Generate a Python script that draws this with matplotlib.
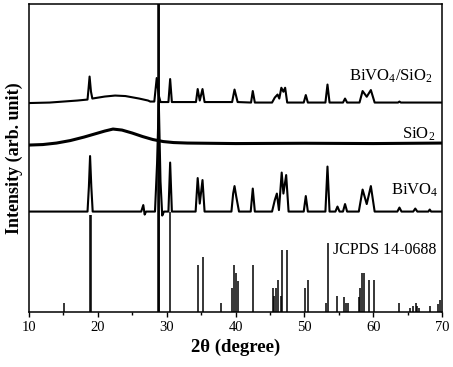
import matplotlib
matplotlib.use('Agg')
from matplotlib import pyplot as plt

plt.rcParams['font.family'] = ['Liberation Serif', 'DejaVu Serif']
plt.rcParams['mathtext.fontset'] = 'custom'
plt.rcParams['mathtext.rm'] = 'Liberation Serif'
plt.rcParams['mathtext.default'] = 'regular'

# BiVO4 pattern (2theta, intensity above its own baseline)
bivo4_x = [10, 18.5, 18.7, 18.87, 19.05, 19.25, 26.3, 26.6, 26.8, 27.0,
           28.3, 28.6, 28.85, 29.1, 29.35, 29.6, 30.25, 30.5, 30.75,
           34.2, 34.5, 34.8, 35.2, 35.5, 39.4, 39.65, 39.85, 40.1, 40.5,
           42.2, 42.5, 42.8, 45.3, 45.7, 46.0, 46.3, 46.7, 46.95, 47.35,
           47.7, 49.9, 50.2, 50.5, 53.05, 53.35, 53.65, 54.5, 54.8, 55.1,
           55.6, 55.9, 56.2, 57.9, 58.45, 59.05, 59.65, 60.2, 63.5, 63.8,
           64.1, 65.8, 66.1, 66.4, 68.0, 68.2, 68.4, 70]
bivo4_y = [0, 0, 25, 55.5, 25, 0, 0, 6.5, -3, 0,
           0, 48, 110, 30, -4, 0, 0, 49, 0,
           0, 33.5, 8, 31.5, 0, 0, 18, 25.5, 15, 0,
           0, 23, 0, 0, 11.5, 18, 1.5, 39, 18, 36.5,
           0, 0, 15.5, 0, 0, 45, 0, 0, 5, 0,
           0, 7.5, 0, 0, 22, 7.5, 25.5, 0, 0, 4,
           0, 0, 3, 0, 0, 2, 0, 0]

# SiO2 pattern (amorphous hump)
sio2_x = [10, 12, 14, 16, 18, 20, 21, 22.2, 23.5, 25, 26.5, 28, 29.5, 31,
          33, 40, 50, 60, 70]
sio2_y = [-1.5, -1, 0.5, 3, 6.5, 10.5, 12.5, 14.5, 13.5, 10.5, 7, 4, 2, 1,
          0.5, 0, 0.3, 0, 0.5]

# BiVO4/SiO2 composite pattern
comp_x = [10, 13, 15, 17, 18.5, 18.65, 18.8, 19.0, 19.2, 21, 22.5, 24, 26,
          27.3, 27.6, 28.2, 28.55, 28.85, 29.1, 30.25, 30.5, 30.75, 34.25,
          34.5, 34.8, 35.2, 35.5, 39.5, 39.85, 40.3, 42.25, 42.5, 42.8,
          45.3, 45.7, 46.1, 46.35, 46.65, 46.95, 47.2, 47.5, 49.9, 50.2,
          50.5, 53.05, 53.35, 53.65, 55.6, 55.9, 56.2, 58.0, 58.45, 59.05,
          59.65, 60.2, 63.6, 63.8, 64.0, 70]
comp_y = [0.5, 1, 2, 3, 4, 15, 27, 12, 5, 7, 8, 7.5, 5,
          3, 2, 2, 25.5, 8, 1.5, 1.5, 24.5, 1.5, 1.5,
          14.5, 3, 14.5, 1.5, 1.5, 14, 1.5, 1, 12.5, 1,
          1, 6, 9, 5, 15.8, 11.8, 15.8, 1, 1, 8.5,
          1, 1, 19, 1, 1, 5, 1, 1, 12.5, 6.8,
          13.5, 1, 1, 2, 1, 1]

# JCPDS 14-0688 reference lines
ref_pos = [15.1, 18.8, 19.0, 28.68, 28.82, 28.95, 30.5, 34.5, 35.2, 37.9,
           39.5, 39.75, 40.1, 40.3, 42.5, 45.4, 45.6, 45.9, 46.2, 46.6,
           46.8, 47.4, 50.1, 50.5, 53.1, 53.4, 54.7, 55.8, 56.0, 56.3,
           57.9, 58.1, 58.35, 58.6, 59.4, 60.1, 63.8, 65.4, 65.7, 66.2,
           66.4, 66.7, 68.3, 69.35, 69.7]
ref_int = [8.5, 96.5, 96.5, 400, 400, 400, 100, 46.5, 54.5, 8.5,
           23.5, 46.5, 39, 31, 46.5, 23.5, 15.5, 23.5, 31.5, 15.5,
           62, 62, 23.5, 31.5, 8.5, 69, 15.5, 15, 8.5, 8.5,
           15, 23.5, 39, 39, 31.5, 31.5, 9, 3.5, 5.5, 9,
           5.5, 3.5, 5.5, 7.5, 11.5]

offsets = {'BiVO4': 100, 'SiO2': 168, 'comp': 208}

fig = plt.figure(figsize=(4.53, 3.67), dpi=100)
ax = fig.add_axes([0.064, 0.151, 0.912, 0.838])

ax.vlines(ref_pos, 0, ref_int, color='black', linewidth=1.1)
ax.plot(bivo4_x, [v + offsets['BiVO4'] for v in bivo4_y],
        color='black', linewidth=1.5)
ax.plot(sio2_x, [v + offsets['SiO2'] for v in sio2_y],
        color='black', linewidth=2.2)
ax.plot(comp_x, [v + offsets['comp'] for v in comp_y],
        color='black', linewidth=1.5)

ax.text(68.7, 230.5, 'BiVO$_4$/SiO$_2$', ha='right', va='baseline',
        fontsize=12)
ax.text(69.0, 172.5, 'SiO$_2$', ha='right', va='baseline', fontsize=12)
ax.text(69.45, 116.5, 'BiVO$_4$', ha='right', va='baseline', fontsize=12)
ax.text(54.2, 57.2, 'JCPDS 14-0688', ha='left', va='baseline',
        fontsize=11.5)

ax.set_xlim(10, 70)
ax.set_ylim(0, 307.5)
ax.set_xticks([10, 20, 30, 40, 50, 60, 70])
ax.set_xticks([15, 25, 35, 45, 55, 65], minor=True)
ax.set_yticks([])
ax.tick_params(axis='x', which='major', direction='out', length=3.5,
               width=1, labelsize=10.5, pad=3)
ax.tick_params(axis='x', which='minor', direction='out', length=2, width=1)
for s in ax.spines.values():
    s.set_linewidth(1.1)

ax.set_xlabel('2θ (degree)', fontsize=13.5, fontweight='bold', labelpad=4)
ax.set_ylabel('Intensity (arb. unit)', fontsize=13, fontweight='bold',
              labelpad=4)

fig.savefig('out.png', dpi=100)
